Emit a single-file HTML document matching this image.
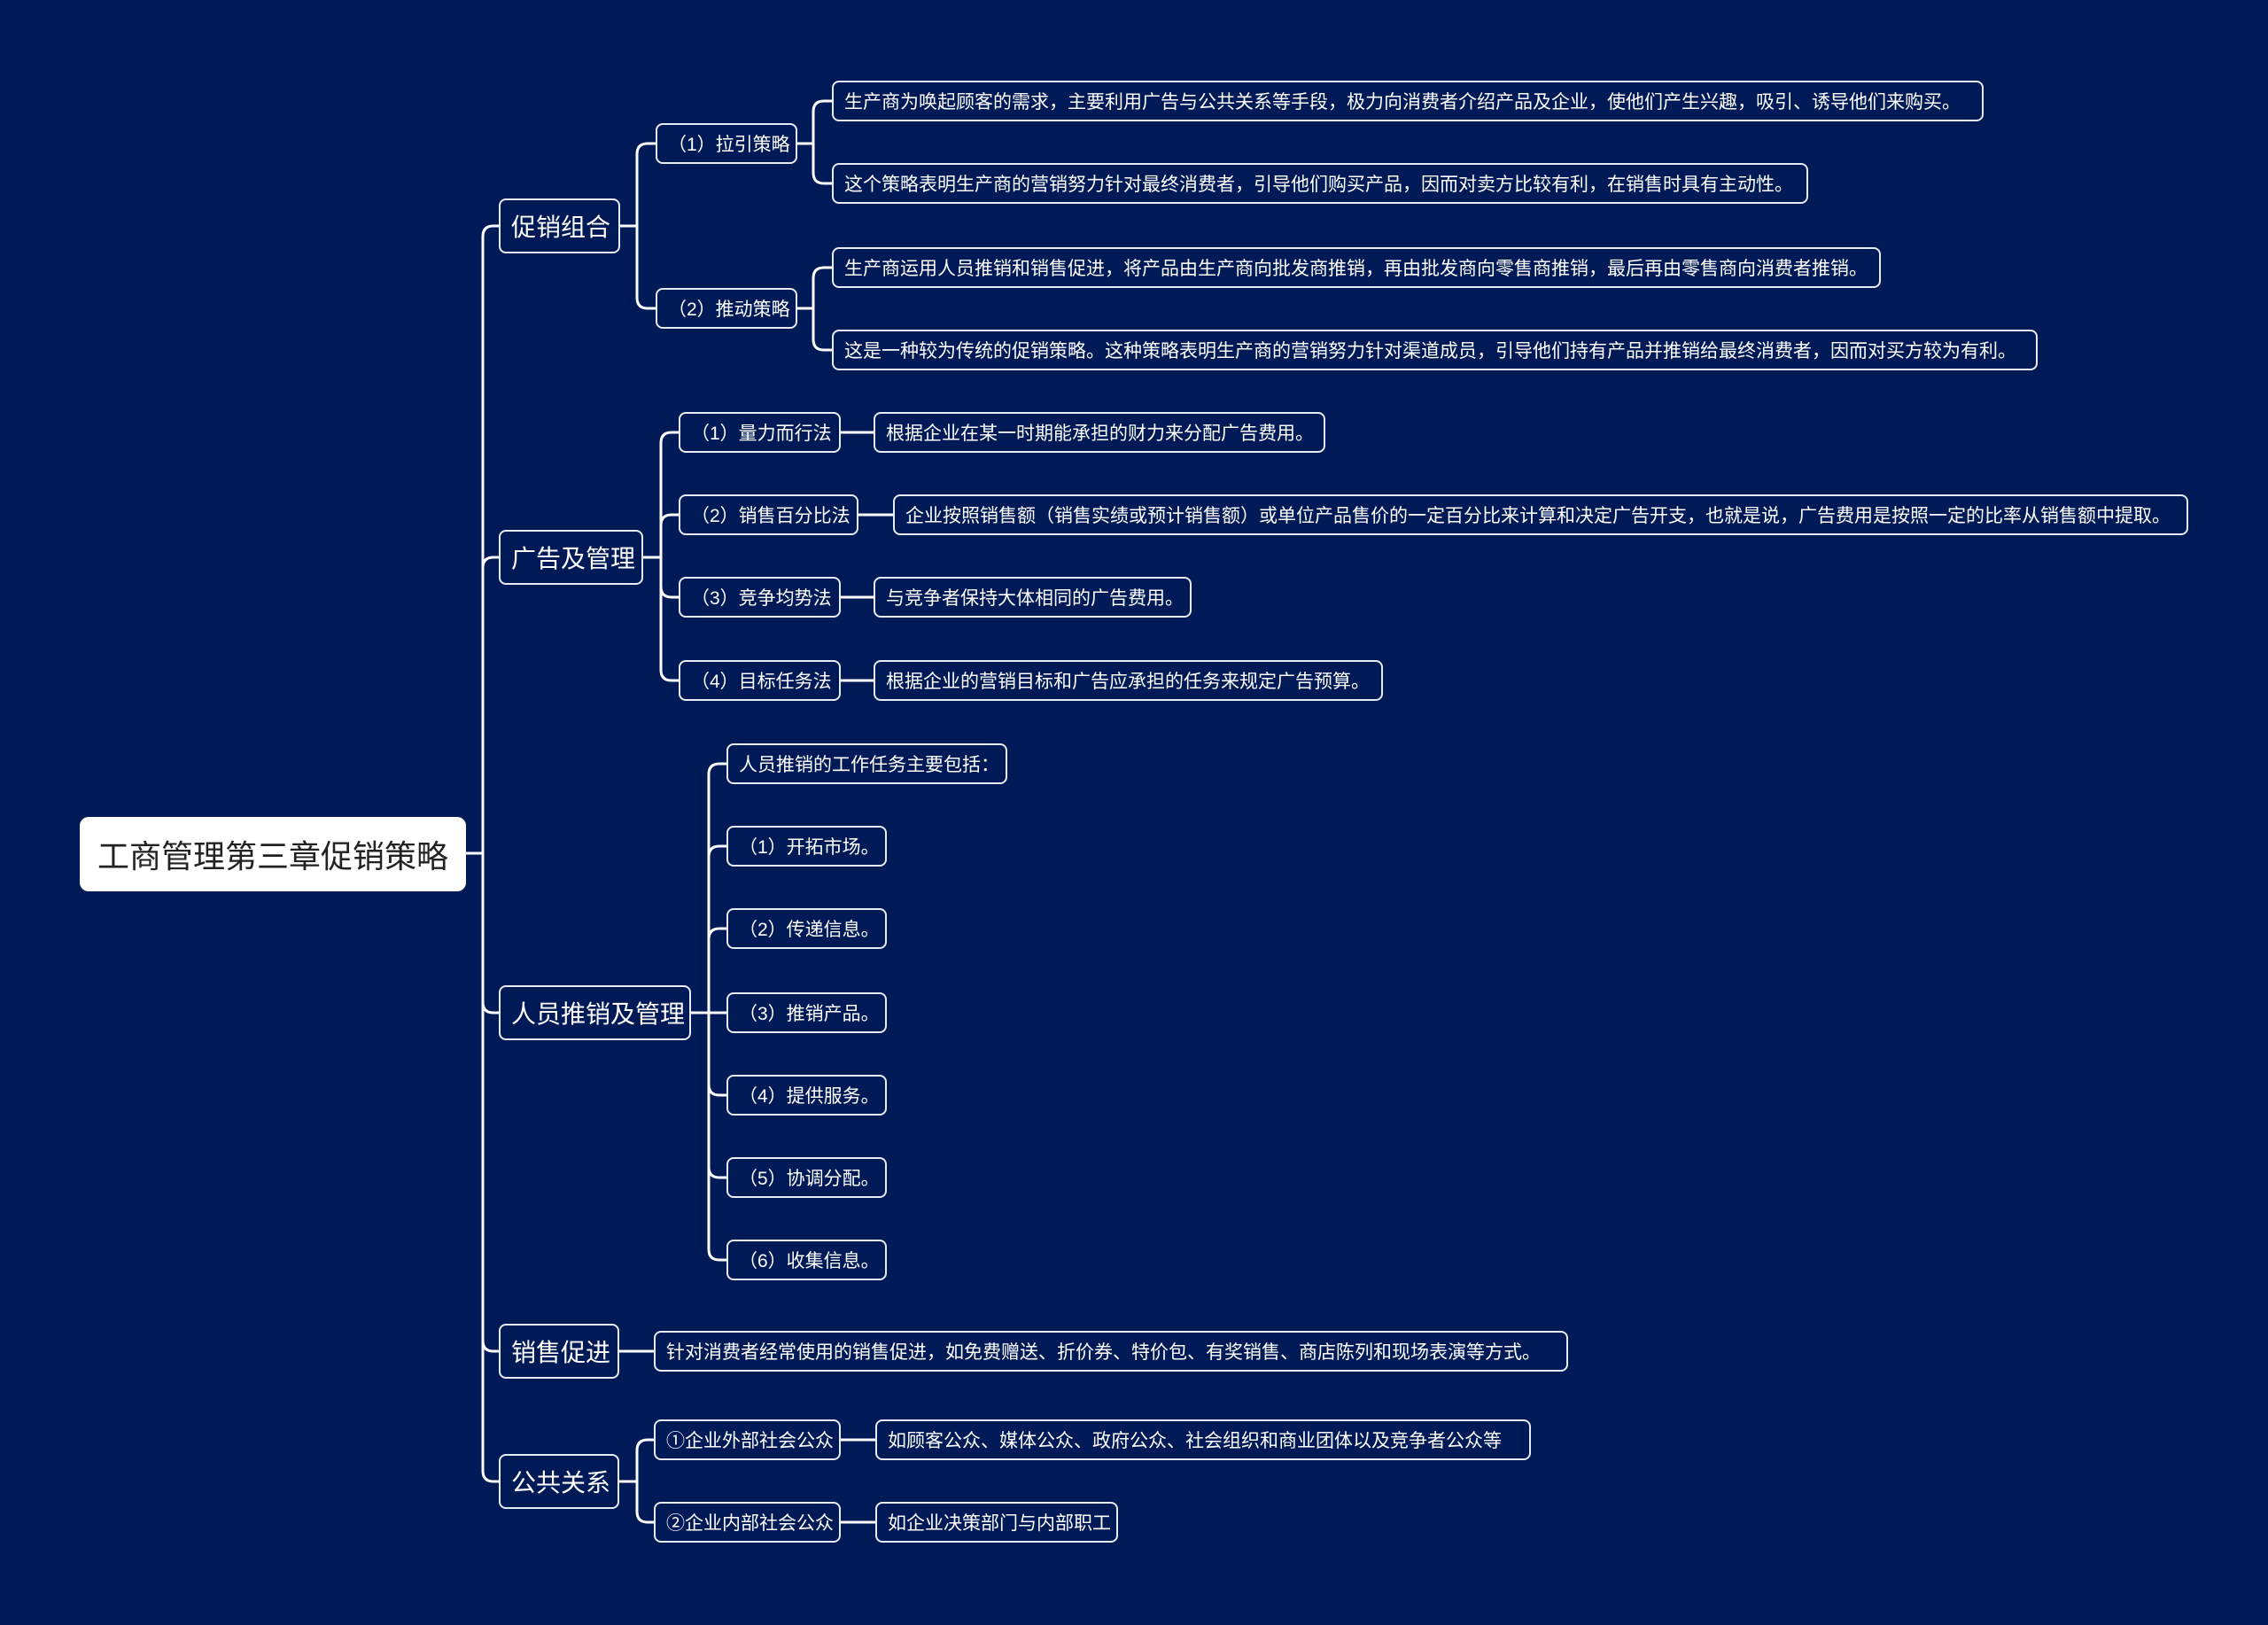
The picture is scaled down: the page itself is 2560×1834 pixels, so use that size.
<!DOCTYPE html>
<html><head><meta charset="utf-8"><style>
body{margin:0;width:2560px;height:1834px;background:#001a57;position:relative;overflow:hidden;font-family:"Liberation Sans","Noto Sans CJK SC",sans-serif;}
.n{position:absolute;box-sizing:border-box;border:2px solid #e8ecf5;border-radius:8px;color:#fff;white-space:nowrap;display:flex;align-items:center;font-size:21px;padding-left:12px;height:46px;}
.l2{font-size:28px;height:62px;padding-left:12px;}
.root{background:#fff;color:#222;font-size:36px;border:none;border-radius:10px;justify-content:center;padding:0;}
svg{position:absolute;left:0;top:0;}
</style></head><body>
<svg width="2560" height="1834" fill="none" stroke="#fff" stroke-width="3">
<path d="M526 963 H545 V267 Q545 255 557 255 H563"/>
<path d="M545 963 V641 Q545 629 557 629 H563"/>
<path d="M545 963 V1131 Q545 1143 557 1143 H563"/>
<path d="M545 963 V1513 Q545 1525 557 1525 H563"/>
<path d="M545 963 V1660 Q545 1672 557 1672 H563"/>
<path d="M700 255 H719 V174 Q719 162 731 162 H740"/>
<path d="M719 255 V336 Q719 348 731 348 H740"/>
<path d="M900 162 H918 V126 Q918 114 930 114 H939"/>
<path d="M918 162 V195 Q918 207 930 207 H939"/>
<path d="M900 348 H918 V314 Q918 302 930 302 H939"/>
<path d="M918 348 V383 Q918 395 930 395 H939"/>
<path d="M726 629 H746 V500 Q746 488 758 488 H766"/>
<path d="M746 629 V593 Q746 581 758 581 H766"/>
<path d="M746 629 V662 Q746 674 758 674 H766"/>
<path d="M746 629 V756 Q746 768 758 768 H766"/>
<path d="M780 1143 H800 V874 Q800 862 812 862 H820"/>
<path d="M800 1143 V967 Q800 955 812 955 H820"/>
<path d="M800 1143 V1060 Q800 1048 812 1048 H820"/>
<path d="M800 1143 H820"/>
<path d="M800 1143 V1224 Q800 1236 812 1236 H820"/>
<path d="M800 1143 V1317 Q800 1329 812 1329 H820"/>
<path d="M800 1143 V1410 Q800 1422 812 1422 H820"/>
<path d="M699 1525 H738"/>
<path d="M699 1672 H719 V1637 Q719 1625 731 1625 H738"/>
<path d="M719 1672 V1706 Q719 1718 731 1718 H738"/>
<path d="M949 488 H986"/><path d="M969 581 H1008"/><path d="M949 674 H986"/><path d="M949 768 H986"/>
<path d="M949 1625 H988"/><path d="M949 1718 H988"/>
</svg>
<div class="n root" style="left:90px;top:922px;width:436px;height:84px;">工商管理第三章促销策略</div>
<div class="n l2" style="left:563px;top:224px;width:137px;">促销组合</div>
<div class="n l2" style="left:563px;top:598px;width:163px;">广告及管理</div>
<div class="n l2" style="left:563px;top:1112px;width:217px;">人员推销及管理</div>
<div class="n l2" style="left:563px;top:1494px;width:136px;">销售促进</div>
<div class="n l2" style="left:563px;top:1641px;width:136px;">公共关系</div>

<div class="n" style="left:740px;top:139px;width:160px;">（1）拉引策略</div>
<div class="n" style="left:740px;top:325px;width:160px;">（2）推动策略</div>
<div class="n" style="left:939px;top:91px;width:1300px;">生产商为唤起顾客的需求，主要利用广告与公共关系等手段，极力向消费者介绍产品及企业，使他们产生兴趣，吸引、诱导他们来购买。</div>
<div class="n" style="left:939px;top:184px;width:1102px;">这个策略表明生产商的营销努力针对最终消费者，引导他们购买产品，因而对卖方比较有利，在销售时具有主动性。</div>
<div class="n" style="left:939px;top:279px;width:1184px;">生产商运用人员推销和销售促进，将产品由生产商向批发商推销，再由批发商向零售商推销，最后再由零售商向消费者推销。</div>
<div class="n" style="left:939px;top:372px;width:1361px;">这是一种较为传统的促销策略。这种策略表明生产商的营销努力针对渠道成员，引导他们持有产品并推销给最终消费者，因而对买方较为有利。</div>

<div class="n" style="left:766px;top:465px;width:183px;">（1）量力而行法</div>
<div class="n" style="left:766px;top:558px;width:203px;">（2）销售百分比法</div>
<div class="n" style="left:766px;top:651px;width:183px;">（3）竞争均势法</div>
<div class="n" style="left:766px;top:745px;width:183px;">（4）目标任务法</div>
<div class="n" style="left:986px;top:465px;width:510px;">根据企业在某一时期能承担的财力来分配广告费用。</div>
<div class="n" style="left:1008px;top:558px;width:1462px;">企业按照销售额（销售实绩或预计销售额）或单位产品售价的一定百分比来计算和决定广告开支，也就是说，广告费用是按照一定的比率从销售额中提取。</div>
<div class="n" style="left:986px;top:651px;width:359px;">与竞争者保持大体相同的广告费用。</div>
<div class="n" style="left:986px;top:745px;width:575px;">根据企业的营销目标和广告应承担的任务来规定广告预算。</div>

<div class="n" style="left:820px;top:839px;width:317px;">人员推销的工作任务主要包括：</div>
<div class="n" style="left:820px;top:932px;width:181px;">（1）开拓市场。</div>
<div class="n" style="left:820px;top:1025px;width:181px;">（2）传递信息。</div>
<div class="n" style="left:820px;top:1120px;width:181px;">（3）推销产品。</div>
<div class="n" style="left:820px;top:1213px;width:181px;">（4）提供服务。</div>
<div class="n" style="left:820px;top:1306px;width:181px;">（5）协调分配。</div>
<div class="n" style="left:820px;top:1399px;width:181px;">（6）收集信息。</div>

<div class="n" style="left:738px;top:1502px;width:1032px;">针对消费者经常使用的销售促进，如免费赠送、折价券、特价包、有奖销售、商店陈列和现场表演等方式。</div>
<div class="n" style="left:738px;top:1602px;width:211px;">①企业外部社会公众</div>
<div class="n" style="left:738px;top:1695px;width:211px;">②企业内部社会公众</div>
<div class="n" style="left:988px;top:1602px;width:740px;">如顾客公众、媒体公众、政府公众、社会组织和商业团体以及竞争者公众等</div>
<div class="n" style="left:988px;top:1695px;width:274px;">如企业决策部门与内部职工</div>
</body></html>
